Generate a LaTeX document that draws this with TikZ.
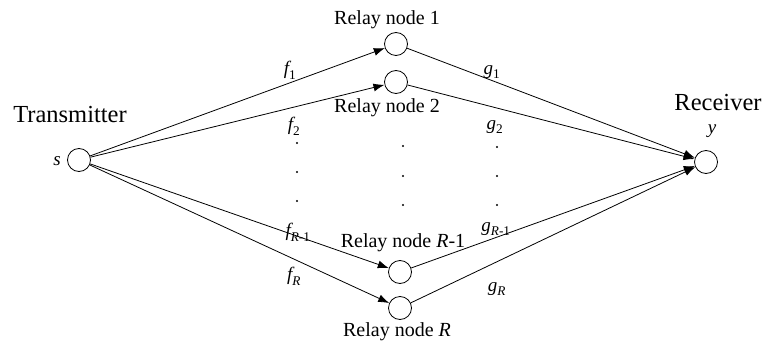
\documentclass[tikz,border=0pt]{standalone}
\usepackage{fontspec}
\setmainfont{Liberation Serif}
\usepackage{unicode-math}
\setmathfont{Latin Modern Math}
\setmathfont[range=it]{Liberation Serif Italic}
\setmathfont[range=up]{Liberation Serif}
\usetikzlibrary{arrows.meta}
\begin{document}
\begin{tikzpicture}[x=1pt,y=-1pt,
  nd/.style={circle,draw,line width=0.8pt,minimum size=23pt,inner sep=0pt},
  ln/.style={line width=0.8pt,-{Latex[length=11pt,width=8pt]}},
  big/.style={font=\fontsize{24.5}{27}\selectfont},
  rl/.style={font=\fontsize{20}{23}\selectfont},
  lab/.style={font=\fontsize{19}{21}\selectfont},
  dt/.style={circle,fill,inner sep=0pt,minimum size=2.2pt}]
\useasboundingbox (0,0) rectangle (770,342);
\node[nd] (s) at (79,160) {};
\node[nd] (r1) at (396,44) {};
\node[nd] (r2) at (396,82) {};
\node[nd] (rr1) at (400,272) {};
\node[nd] (rr) at (400,308) {};
\node[nd] (y) at (706,162) {};
\draw[ln] (s) -- (r1);
\draw[ln] (s) -- (r2);
\draw[ln] (s) -- (rr1);
\draw[ln] (s) -- (rr);
\draw[ln] (r1) -- (y);
\draw[ln] (r2) -- (y);
\draw[ln] (rr1) -- (y);
\draw[ln] (rr) -- (y);
\node[big] (tx) at (70,115) {Transmitter};
\node[big] (rx) at (718,103) {Receiver};
\node[lab] (sl) at (57,161) {$s$};
\node[lab] (yl) at (712,131) {$y$};
\node[rl] (l1) at (387,20) {Relay node 1};
\node[rl] (l2) at (387,108) {Relay node 2};
\node[rl] (l3) at (403,243) {Relay node $R$-1};
\node[rl] (l4) at (397,332) {Relay node $R$};
\node[lab] (f1) at (290,70) {$f_1$};
\node[lab] (f2) at (294,126) {$f_2$};
\node[lab] (f3) at (298,232) {$f_{R\text{-}1}$};
\node[lab] (f4) at (294,276) {$f_R$};
\node[lab] (g1) at (492,72) {$g_1$};
\node[lab] (g2) at (495,127) {$g_2$};
\node[lab] (g3) at (496,229) {$g_{R\text{-}1}$};
\node[lab] (g4) at (497,289) {$g_R$};
\foreach \x/\y in {297/143,297/172,297/201,403/146,403/176,403/205,497/147,497/176,497/205}
  \node[dt] at (\x,\y) {};
\end{tikzpicture}
\end{document}
